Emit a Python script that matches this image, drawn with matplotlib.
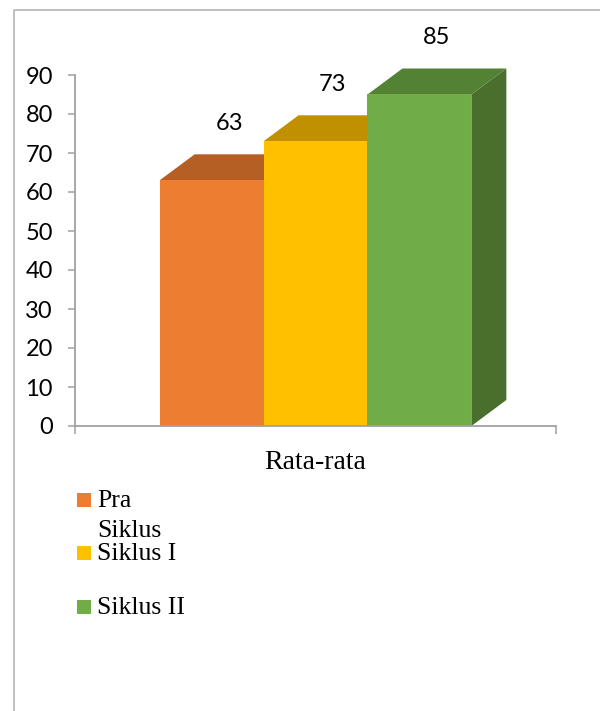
import matplotlib.pyplot as plt
from matplotlib.patches import Polygon, Rectangle
from matplotlib.lines import Line2D

series = ["Pra\nSiklus", "Siklus I", "Siklus II"]
values = [63, 73, 85]
category = "Rata-rata"
yticks = [0, 10, 20, 30, 40, 50, 60, 70, 80, 90]

front = ["#ED7D31", "#FFC000", "#70AD47"]
top = ["#B65F24", "#C09000", "#548235"]
side = ["#A4541E", "#B08400", "#4A6F2D"]

W, H = 600, 711
fig = plt.figure(figsize=(W / 100, H / 100), dpi=100)

def fx(px):
    return px / W

def fy(py):
    return 1 - py / H

# plot area in pixels: x 75..556, y 75..426
ax = fig.add_axes([fx(75), fy(426), (556 - 75) / W, (426 - 75) / H])
ax.set_xlim(0, 1)
ax.set_ylim(0, 90)

# 3d depth (pixels) converted to data units
ddx = 35 / (556 - 75)
ddy = 26 / ((426 - 75) / 90)

bw = 0.216
for i, v in enumerate(values):
    x0 = 0.5 + (i - 1.5) * bw
    x1 = x0 + bw
    ax.add_patch(Polygon([(x1, 0), (x1, v), (x1 + ddx, v + ddy), (x1 + ddx, ddy)],
                         closed=True, facecolor=side[i], edgecolor="none", clip_on=False))
    ax.add_patch(Polygon([(x0, v), (x1, v), (x1 + ddx, v + ddy), (x0 + ddx, v + ddy)],
                         closed=True, facecolor=top[i], edgecolor="none", clip_on=False))
    ax.bar(x0, v, width=bw, align="edge", color=front[i], edgecolor="none", zorder=2)
    ax.text((x0 + x1) / 2 + ddx / 2, v + 14.5, str(v), ha="center", va="center",
            fontsize=17, family="Lato", color="black")

axcol = "#a0a0a0"
for s in ["top", "right"]:
    ax.spines[s].set_visible(False)
for s in ["left", "bottom"]:
    ax.spines[s].set_color(axcol)
    ax.spines[s].set_linewidth(1.3)

ax.set_yticks(yticks)
ax.set_yticklabels([str(t) for t in yticks], family="Lato", fontsize=17, color="black")
ax.tick_params(axis="y", length=5, width=1.1, color=axcol, pad=11)
ax.set_xticks([0, 1])
ax.set_xticklabels(["", ""])
ax.tick_params(axis="x", which="major", length=6, width=1.1, color=axcol)
ax.set_xticks([0.5], minor=True)
ax.set_xticklabels([category], minor=True, family="Liberation Serif", fontsize=20, color="black")
ax.tick_params(axis="x", which="minor", length=0, pad=17)

# legend drawn by hand
for i, lab in enumerate(series):
    base = 507 + i * 53.5
    fig.add_artist(Rectangle((fx(77), fy(base - 0.5)), 14 / W, 14 / H,
                             facecolor=front[i], edgecolor="none"))
    for j, line in enumerate(lab.split("\n")):
        fig.text(fx(97), fy(base + j * 30), line, ha="left", va="baseline",
                 family="Liberation Serif", fontsize=18.5, color="black")

# outer frame (left and top edges visible)
fig.add_artist(Line2D([fx(13.5), fx(13.5), 1], [0, fy(10), fy(10)], color="#b4b4b4", lw=1.2))

fig.savefig("out.png", dpi=100)
